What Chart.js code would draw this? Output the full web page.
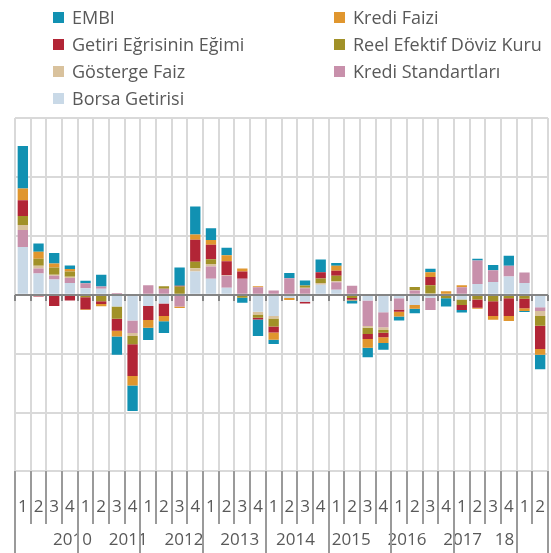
<!DOCTYPE html>
<html><head><meta charset="utf-8">
<script src="https://cdn.jsdelivr.net/npm/chart.js@4/dist/chart.umd.min.js"></script>
<style>
html,body{margin:0;padding:0;background:#fff;}
#wrap{position:relative;width:551px;height:553px;overflow:hidden;}
#c{position:absolute;left:0;top:0;}
#legend{position:absolute;left:0;top:0;width:551px;height:115px;font-family:'Open Sans';font-size:18px;color:#595959;}
.li{position:absolute;height:27px;line-height:27px;white-space:nowrap;}
.sw{position:absolute;width:11px;height:11px;top:8px;left:0;}
.tx{position:absolute;left:19px;top:0;}
</style></head>
<body><div id="wrap"><canvas id="c" width="551" height="553"></canvas><div id="legend"></div></div>
<script>
const quarterLabels = ['1','2','3','4','1','2','3','4','1','2','3','4','1','2','3','4','1','2','3','4','1','2','3','4','1','2','3','4','1','2','3','4','1','2'];
const yearLabels = ['2010','2011','2012','2013','2014','2015','2016','2017','18'];
const yearQuarterCounts = [4,4,4,4,4,4,4,4,2];

const seriesNames = ['EMBI','Kredi Faizi','Getiri Eğrisinin Eğimi','Reel Efektif Döviz Kuru','Gösterge Faiz','Kredi Standartları','Borsa Getirisi'];
const seriesColors = ['#1191B2','#E0962E','#B22536','#A19128','#D9C29D','#C890AB','#C9D9E7'];

const embi       = [0.72,0.14,0.18,0.06,0.04,0.20,-0.31,-0.435,-0.21,-0.20,0.31,0.475,0.20,0.125,-0.085,-0.28,-0.07,0.09,0.085,0.215,0.045,-0.05,-0.164,-0.113,-0.07,-0.079,0.062,-0.14,-0.04,0.03,0.09,0.17,-0.017,-0.243];
const krediFaizi = [0.20,0.12,0.07,0.04,-0.015,-0.035,-0.10,-0.16,-0.13,-0.09,-0.025,0.09,0.08,0.10,0.05,0.02,-0.125,-0.035,0,-0.02,0.085,-0.015,-0.147,-0.096,-0.08,-0.062,0.08,0.057,0.034,-0.017,-0.062,-0.085,-0.045,-0.10];
const getiri     = [0.27,-0.03,-0.19,-0.10,-0.20,-0.05,-0.20,-0.54,-0.24,-0.21,0.01,0.373,0.25,0.24,0.125,-0.03,-0.10,0,-0.03,0.107,0.085,-0.03,-0.085,-0.08,-0.04,0,0.14,0,-0.085,-0.14,-0.25,-0.30,-0.164,-0.395];
const reel       = [0.15,0.12,0.12,0.09,-0.045,-0.11,-0.21,-0.14,0,0.045,0.14,0.107,0.08,0,-0.05,-0.056,-0.135,0,0.035,0.075,0.096,-0.035,-0.107,-0.045,0,0.05,0.14,-0.062,-0.096,-0.08,-0.113,-0.06,-0.068,-0.164];
const gosterge   = [0.085,0.045,0.02,0.02,0,0,0,-0.05,0,0,0,0.056,0.04,0.01,0,-0.045,-0.045,0,0.01,0.03,0.017,-0.02,-0.03,-0.045,0,0.01,0.02,0,0,0,0,0,0,-0.085];
const krediStd   = [0.29,0.085,0.06,0.085,0.085,0.04,0.03,-0.21,0.16,0.10,-0.20,-0.02,0.21,0.20,0.27,0.125,0.07,0.28,0.11,0,0.125,0.15,-0.43,-0.254,-0.19,0.07,-0.21,0,0.125,0.40,0.20,0.18,0.175,-0.062];
const borsa      = [0.81,0.36,0.26,0.20,0.11,0.10,-0.20,-0.44,-0.19,-0.15,0,0.395,0.27,0.12,0,-0.29,-0.36,-0.055,-0.12,0.17,0.085,0,-0.10,-0.30,-0.06,-0.175,-0.05,0,-0.08,0.18,0.215,0.31,0.20,-0.215];

const seriesData = [embi,krediFaizi,getiri,reel,gosterge,krediStd,borsa];

const yearCenters = [];
const yearBounds = [0];
(function(){let s=0;for(const n of yearQuarterCounts){yearCenters.push(s+n/2-0.5);s+=n;yearBounds.push(s);}})();

// HTML legend (row-major, two columns)
const legendEl = document.getElementById('legend');
const colX = [53, 334];
const rowY = [3.5, 30.5, 57.5, 84.5];
seriesNames.forEach((name,i)=>{
  const d = document.createElement('div');
  d.className='li';
  d.style.left = colX[i%2]+'px';
  d.style.top = rowY[Math.floor(i/2)]+'px';
  d.innerHTML = '<span class="sw" style="background:'+seriesColors[i]+'"></span><span class="tx">'+name+'</span>';
  legendEl.appendChild(d);
});

const order = [6,5,4,3,2,1,0];
const datasets = order.map(i=>({
  label: seriesNames[i],
  data: seriesData[i],
  backgroundColor: seriesColors[i],
  borderWidth: 0,
  barPercentage: 0.66,
  categoryPercentage: 1.0,
  stack: 's'
}));

const FONT = 'Open Sans';
function boundaryPx(x, i){
  const p0 = x.getPixelForValue(0);
  const p1 = x.getPixelForValue(1);
  return p0 + (i - 0.5) * (p1 - p0);
}
function vline(ctx, px, y1, y2, w){
  ctx.fillRect(Math.round(px) - Math.floor(w/2), Math.round(y1), w, Math.round(y2 - y1));
}
const axisDecor = {
  id:'axisDecor',
  beforeDatasetsDraw(chart){
    const ctx = chart.ctx, ca = chart.chartArea;
    const x = chart.scales.x;
    const n = quarterLabels.length;
    ctx.save();
    ctx.fillStyle = '#d9d9d9';
    for(let i=0;i<=n;i++){
      vline(ctx, boundaryPx(x,i), ca.top, ca.bottom, 2);
    }
    ctx.restore();
  },
  afterDatasetsDraw(chart){
    const ctx = chart.ctx, ca = chart.chartArea;
    const x = chart.scales.x, y = chart.scales.y;
    const n = quarterLabels.length;
    const y0 = y.getPixelForValue(0);
    ctx.save();
    ctx.fillStyle = '#858585';
    ctx.fillRect(ca.left, Math.round(y0 - 1), ca.right - ca.left, 2);
    for(let i=0;i<=n;i++){
      vline(ctx, boundaryPx(x,i), y0, y0 + 6, 2);
    }
    ctx.restore();
  },
  afterDraw(chart){
    const ctx = chart.ctx, ca = chart.chartArea;
    const x = chart.scales.x, x2 = chart.scales.x2;
    const n = quarterLabels.length;
    ctx.save();
    ctx.fillStyle = '#9a9a9a';
    for(let i=0;i<=n;i++){
      vline(ctx, boundaryPx(x,i), ca.bottom, x.bottom, 2);
    }
    for(const b of yearBounds){
      vline(ctx, boundaryPx(x,b), ca.bottom, x2.bottom, 2);
    }
    ctx.restore();
  }
};

new Chart(document.getElementById('c'), {
  type:'bar',
  data:{labels: quarterLabels, datasets},
  options:{
    responsive:false,
    animation:false,
    devicePixelRatio:1,
    layout:{padding:{top:118,left:15,right:3,bottom:0}},
    plugins:{legend:{display:false},tooltip:{enabled:false}},
    scales:{
      x:{
        type:'category', stacked:true, offset:true, weight:0,
        grid:{display:true, drawOnChartArea:false, drawTicks:true, tickLength:26, tickColor:'rgba(0,0,0,0)', color:'rgba(0,0,0,0)'},
        border:{display:false},
        ticks:{font:{family:FONT,size:17}, color:'#595959', padding:0, maxRotation:0, autoSkip:false},
        afterFit(s){ s.height = 53.3; }
      },
      x2:{
        type:'linear', position:'bottom', min:-0.5, max:33.5, weight:1, bounds:'data',
        grid:{display:true, drawOnChartArea:false, drawTicks:true, tickLength:5, tickColor:'rgba(0,0,0,0)', color:'rgba(0,0,0,0)'},
        border:{display:false},
        afterBuildTicks(s){ s.ticks = yearCenters.map(v=>({value:v})); },
        ticks:{font:{family:FONT,size:17}, color:'#595959', padding:0, maxRotation:0, autoSkip:false,
          callback:(v,i)=>yearLabels[i]},
        afterFit(s){ s.height = 28.3; }
      },
      y:{
        stacked:true, min:-3, max:3,
        ticks:{display:false, stepSize:1},
        grid:{color:'#d9d9d9', lineWidth:2, drawTicks:false},
        border:{display:false},
        afterFit(s){ s.width = 0; }
      }
    }
  },
  plugins:[axisDecor]
});
</script>
</body></html>
